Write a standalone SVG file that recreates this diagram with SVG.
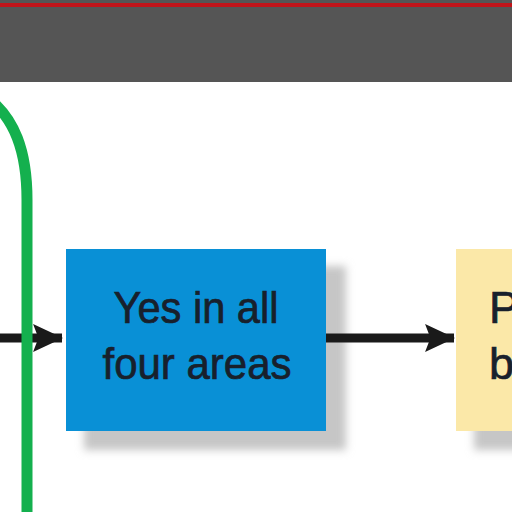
<svg xmlns="http://www.w3.org/2000/svg" width="512" height="512" viewBox="0 0 512 512">
<defs>
<filter id="sh" x="-20%" y="-20%" width="150%" height="150%">
<feGaussianBlur stdDeviation="4"/>
</filter>
<marker id="ah" markerUnits="userSpaceOnUse" markerWidth="30" markerHeight="30" viewBox="0 0 28 28" refX="27" refY="14" orient="auto">
<path d="M0,1 L28,14 L0,27 L5,14 Z" fill="#1a1a1a"/>
</marker>
</defs>
<style>
.lbl{font-family:"Liberation Sans",Arial,sans-serif;font-size:45px;fill:#18202c;stroke:#18202c;stroke-width:0.7}
.conn{stroke:#1a1a1a;stroke-width:9;fill:none}
.shadow{fill:#c6c6c6;filter:url(#sh)}
</style>
<rect x="0" y="0" width="512" height="512" fill="#ffffff"/>
<g id="header">
<rect x="0" y="0" width="512" height="82" fill="#555555"/>
<rect x="0" y="3" width="512" height="4" fill="#c0141a"/>
</g>
<g id="node-yes">
<rect class="shadow" x="84" y="266" width="262" height="184"/>
<rect x="66" y="249" width="260" height="182" fill="#0990d6"/>
<text class="lbl" x="196" y="323" text-anchor="middle" textLength="165" lengthAdjust="spacingAndGlyphs">Yes in all</text>
<text class="lbl" x="197" y="379" text-anchor="middle" textLength="189" lengthAdjust="spacingAndGlyphs">four areas</text>
</g>
<g id="node-next">
<rect class="shadow" x="474" y="266" width="60" height="184"/>
<rect x="456" y="249" width="80" height="182" fill="#fbe8a8"/>
<text class="lbl" x="489" y="323">P</text>
<text class="lbl" x="489" y="379">b</text>
</g>
<g id="connectors">
<line class="conn" x1="0" y1="338" x2="62" y2="338" marker-end="url(#ah)"/>
<line class="conn" x1="326" y1="338" x2="454" y2="338" marker-end="url(#ah)"/>
</g>
<g id="loop">
<path d="M-12,98 C14,118 27,150 27,200 L27,512" fill="none" stroke="#14b04e" stroke-width="11"/>
</g>
</svg>
